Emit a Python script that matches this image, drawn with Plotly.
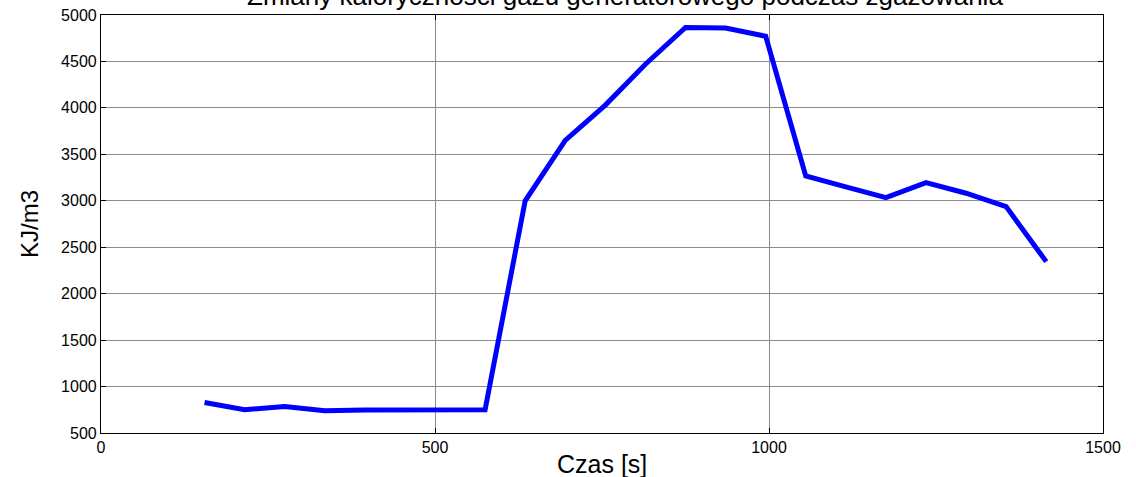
import plotly.graph_objects as go

# Data
czas_s = [155, 215, 275, 335, 395, 455, 515, 575, 635, 695, 755, 815,
          875, 935, 995, 1055, 1115, 1175, 1235, 1295, 1355, 1415]
kaloryczność_kj_m3 = [829, 751, 786, 740, 748, 750, 751, 751, 3000, 3650, 4030, 4470,
                      4866, 4860, 4772, 3267, 3150, 3033, 3195, 3081, 2937, 2345]

x_ticks = [0, 500, 1000, 1500]
y_ticks = [500, 1000, 1500, 2000, 2500, 3000, 3500, 4000, 4500, 5000]

title_text = "Zmiany kaloryczności gazu generatorowego podczas zgazowania"
x_title = "Czas [s]"
y_title = "KJ/m3"

FONT = "Arial, Liberation Sans, sans-serif"

fig = go.Figure()
fig.add_trace(go.Scatter(
    x=czas_s, y=kaloryczność_kj_m3, mode="lines",
    line=dict(color="#0000FF", width=5),
    showlegend=False, hoverinfo="skip",
))

axis_common = dict(
    showline=True, linecolor="black", linewidth=1.2, mirror="allticks",
    ticks="inside", ticklen=5, tickcolor="black", tickwidth=1,
    showgrid=True, gridcolor="#8c8c8c", gridwidth=1,
    zeroline=False,
    tickfont=dict(family=FONT, size=16, color="black"),
)

fig.update_layout(
    width=1136, height=477,
    margin=dict(l=101, r=33, t=15, b=44, autoexpand=False),
    paper_bgcolor="white", plot_bgcolor="white",
    xaxis=dict(range=[0, 1500], tickvals=x_ticks, ticktext=[str(v) for v in x_ticks],
               automargin=False, **axis_common),
    yaxis=dict(range=[500, 5000], tickvals=y_ticks, ticktext=[str(v) for v in y_ticks],
               automargin=False, **axis_common),
    annotations=[
        dict(text=title_text, xref="paper", yref="paper", x=0.523, y=1,
             xanchor="center", yanchor="bottom", yshift=2, showarrow=False,
             font=dict(family=FONT, size=26, color="black")),
        dict(text=x_title, xref="paper", yref="paper", x=0.5, y=0,
             xanchor="center", yanchor="top", yshift=-15, showarrow=False,
             font=dict(family=FONT, size=25, color="black")),
        dict(text=y_title, xref="paper", yref="paper", x=0, y=0.5,
             xanchor="center", yanchor="middle", xshift=-72, textangle=-90,
             showarrow=False, font=dict(family=FONT, size=24, color="black")),
    ],
)

fig.write_html("out.html")
